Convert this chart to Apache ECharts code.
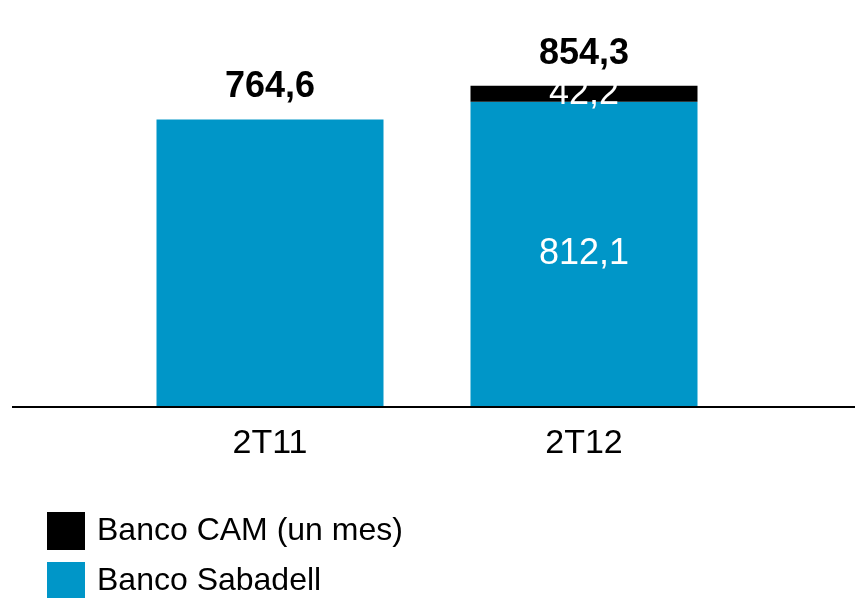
<!DOCTYPE html>
<html><head><meta charset="utf-8">
<script src="https://cdn.jsdelivr.net/npm/echarts@6/dist/echarts.min.js"></script>
<style>html,body{margin:0;padding:0;background:#fff}#c{width:855px;height:598px}</style>
</head><body><div id="c"></div>
<script>
const categories = ['2T11', '2T12'];
const sabadell = [764.6, 812.1];
const cam = [null, 42.2];
const totals = [764.6, 854.3];
const seriesNames = ['Banco CAM (un mes)', 'Banco Sabadell'];

const fmt = v => v.toFixed(1).replace('.', ',');
const FONT = 'Liberation Sans, Arial, sans-serif';
const chart = echarts.init(document.getElementById('c'));
chart.setOption({
  animation: false,
  textStyle: { fontFamily: FONT },
  grid: { left: 113, right: 114, top: 31, bottom: 191 },
  xAxis: {
    type: 'category', data: categories,
    axisLine: { show: false }, axisTick: { show: false },
    axisLabel: { fontSize: 34, color: '#000', margin: 20, fontFamily: FONT }
  },
  yAxis: { type: 'value', min: 0, max: 1000, show: false },
  legend: {
    orient: 'vertical', left: 47, top: 512, height: 120, itemWidth: 38, itemHeight: 38, itemGap: 12,
    icon: 'rect', data: seriesNames, padding: 0,
    textStyle: { fontSize: 32, color: '#000', padding: [4, 0, 0, 7], fontFamily: FONT }
  },
  series: [
    {
      name: seriesNames[1], type: 'bar', stack: 'a', data: sabadell, barWidth: 227,
      itemStyle: { color: '#0096C8' },
      label: { show: true, position: 'inside', color: '#fff', fontSize: 36, fontFamily: FONT,
        formatter: p => p.dataIndex === 1 ? fmt(p.value) : '' }
    },
    {
      name: seriesNames[0], type: 'bar', stack: 'a', data: cam, barWidth: 227,
      itemStyle: { color: '#000' },
      label: { show: true, position: 'inside', color: '#fff', fontSize: 36, fontFamily: FONT,
        formatter: p => p.value == null ? '' : fmt(p.value) }
    },
    {
      name: 'total', type: 'scatter', data: totals, symbolSize: 0, silent: true,
      itemStyle: { opacity: 1 },
      label: { show: true, position: 'top', distance: 14, color: '#000', fontSize: 36,
        fontWeight: 'bold', fontFamily: FONT, formatter: p => fmt(p.value) }
    }
  ],
  graphic: [{
    type: 'line', shape: { x1: 12, y1: 407, x2: 855, y2: 407 },
    style: { stroke: '#000', lineWidth: 2 }, z: 10
  }]
});
</script></body></html>
